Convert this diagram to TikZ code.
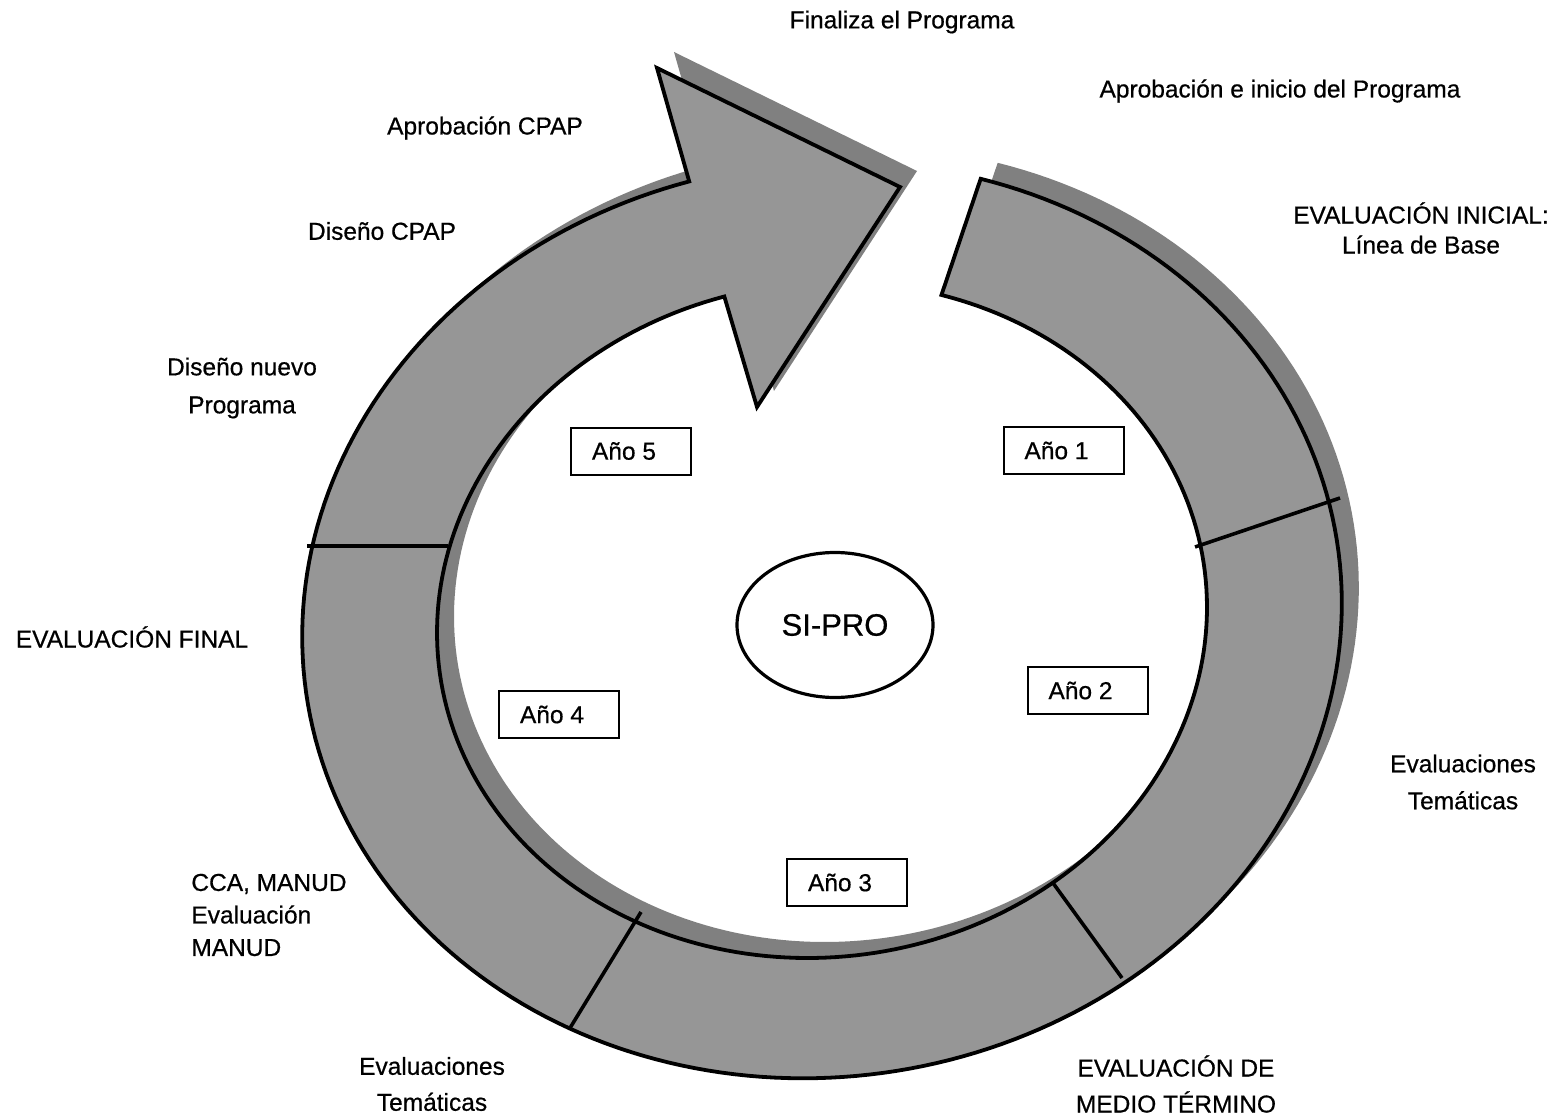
\documentclass[tikz,border=0pt]{standalone}
\usepackage{fontspec}
\setmainfont{Liberation Sans}[FakeBold=0.6]
\usetikzlibrary{shapes.geometric}
\definecolor{ringgray}{RGB}{150,150,150}
\definecolor{shadowgray}{RGB}{128,128,128}
\newcommand\ringshape{%
  plot[domain=0:1, samples=220] ({ox(65.2-327.7*\x)},{oy(65.2-327.7*\x)})
  -- (657,68) -- (900,187) -- (757,407)
  -- plot[domain=0:1, samples=220] ({ix(-262.3+327.5*\x)},{iy(-262.3+327.5*\x)})
  -- cycle}
\begin{document}
\begin{tikzpicture}[x=0.5pt,y=-0.5pt,
  declare function={
    ox(\t)=822+515.93*cos(\t)-63.60*sin(\t);
    oy(\t)=620-72.51*cos(\t)-452.55*sin(\t);
    ix(\t)=822+382.14*cos(\t)-46.90*sin(\t);
    iy(\t)=620-53.71*cos(\t)-333.72*sin(\t);
  },
  ring/.style={fill=ringgray, draw=black, line width=1.9pt, line join=miter},
  shadowfill/.style={fill=shadowgray},
  divider/.style={draw=black, line width=1.8pt},
  yearbox/.style={draw=black, line width=1pt, fill=white, minimum width=60pt,
    minimum height=23.5pt, inner sep=0pt, font=\fontsize{12.25}{14}\selectfont},
  lbl/.style={inner sep=0pt, align=center},
]
\useasboundingbox (0,0) rectangle (1559,1118);

% shadow
\fill[shadowfill, shift={(17,-16)}] \ringshape;
% ring with arrow
\draw[ring] \ringshape;

% dividers
\coordinate (d1a) at (1195,547); \coordinate (d1b) at (1340,498);
\coordinate (d2a) at (307,546);  \coordinate (d2b) at (448,546);
\coordinate (d3a) at (641,912);  \coordinate (d3b) at (570,1028);
\coordinate (d4a) at (1053,883); \coordinate (d4b) at (1122,978);
\draw[divider] (d1a) -- (d1b);
\draw[divider] (d2a) -- (d2b);
\draw[divider] (d3a) -- (d3b);
\draw[divider] (d4a) -- (d4b);

% year boxes
\node[yearbox] (y5) at (631,451) {Año 5\hspace*{7pt}};
\node[yearbox] (y1) at (1063.5,450.5) {Año 1\hspace*{7pt}};
\node[yearbox] (y2) at (1087.5,690.5) {Año 2\hspace*{7pt}};
\node[yearbox] (y4) at (559,714.5) {Año 4\hspace*{7pt}};
\node[yearbox] (y3) at (847,882.5) {Año 3\hspace*{7pt}};

% centre
\node[ellipse, draw=black, line width=1.6pt, minimum width=98pt, minimum height=72.5pt,
  inner sep=0pt, font=\fontsize{15.5}{18}\selectfont] (sipro) at (835,625) {SI-PRO};

% labels
\node[lbl, font=\fontsize{12.25}{15}\selectfont] (fin) at (902,22) {Finaliza el Programa};
\node[lbl, font=\fontsize{12.25}{15}\selectfont] (apini) at (1280,91) {Aprobación e inicio del Programa};
\node[lbl, font=\fontsize{12.25}{15}\selectfont] (apcpap) at (485,128) {Aprobación CPAP};
\node[lbl, font=\fontsize{12.25}{15}\selectfont] (discpap) at (382,231) {Diseño CPAP};
\node[lbl, font=\fontsize{12.25}{15}\selectfont] (evini) at (1421,228) {EVALUACIÓN INICIAL:\\ Línea de Base};
\node[lbl, font=\fontsize{12.25}{19}\selectfont] (disnuevo) at (242,388) {Diseño nuevo\\Programa};
\node[lbl, font=\fontsize{12.25}{15}\selectfont] (evfin) at (132,637) {EVALUACIÓN FINAL};
\node[lbl, font=\fontsize{12.25}{18.5}\selectfont] (evtem1) at (1463,782) {Evaluaciones\\Temáticas};
\node[lbl, align=left, anchor=west, font=\fontsize{12.25}{16.25}\selectfont] (cca) at (191,915) {CCA, MANUD\\Evaluación\\MANUD};
\node[lbl, font=\fontsize{12.25}{18}\selectfont] (evtem2) at (432,1084) {Evaluaciones\\Temáticas};
\node[lbl, font=\fontsize{12.25}{18}\selectfont] (evmed) at (1176,1084) {EVALUACIÓN DE\\MEDIO TÉRMINO};
\end{tikzpicture}
\end{document}
